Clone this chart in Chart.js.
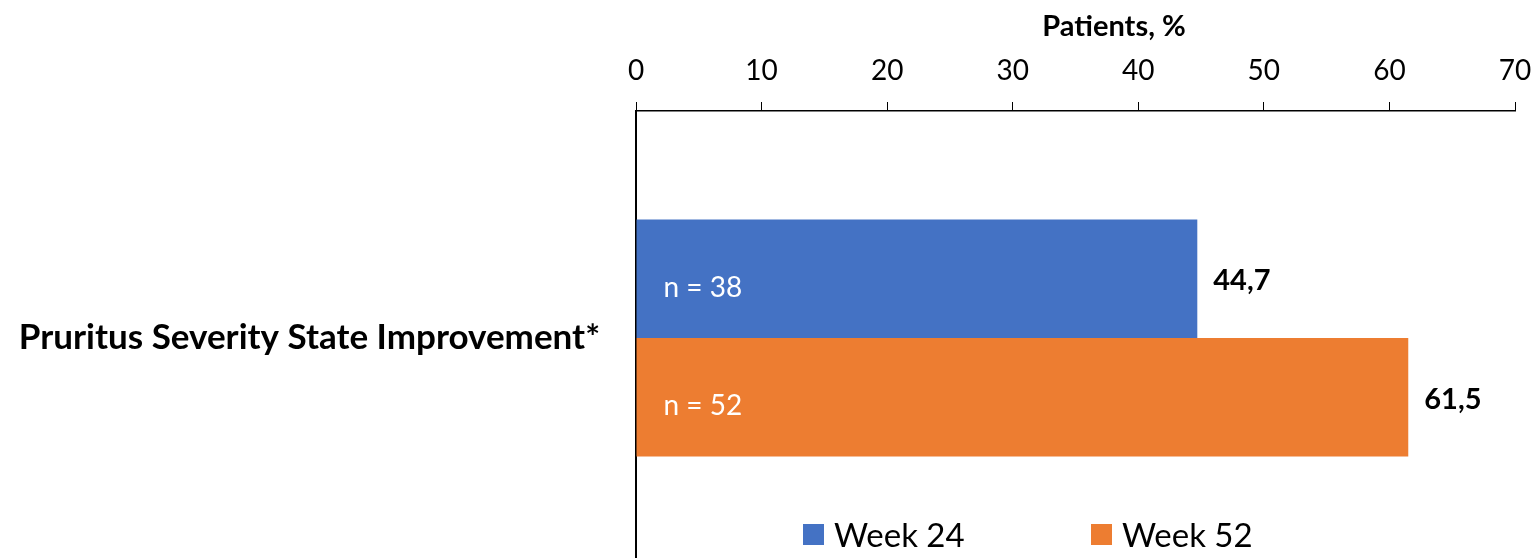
<!DOCTYPE html>
<html lang="en">
   <head>
      <meta charset="UTF-8" />
      <title>Pruritus Severity State Improvement</title>
      <script src="https://cdn.jsdelivr.net/npm/chart.js"></script>
      <style>
         body {
            margin: 0;
            overflow: hidden;
            background: #fff;
         }
      </style>
   </head>
   <body>
      <canvas id="chart" width="1537" height="565"></canvas>
      <script>
         // data
         const categories = ['Pruritus Severity State Improvement*'];
         const seriesLabels = ['Week 24', 'Week 52'];
         const week24 = [44.7];
         const week52 = [61.5];
         const nWeek24 = [38];
         const nWeek52 = [52];
         const axisTitle = 'Patients, %';

         const FONT = 'Lato, "Open Sans", sans-serif';

         // value labels, n labels, axis title and legend
         const annotate = {
            id: 'annotate',
            afterDatasetsDraw(chart) {
               const ctx = chart.ctx;
               const nLists = [nWeek24, nWeek52];
               ctx.save();
               chart.data.datasets.forEach((ds, i) => {
                  const meta = chart.getDatasetMeta(i);
                  meta.data.forEach((bar, j) => {
                     ctx.textBaseline = 'middle';
                     ctx.textAlign = 'left';
                     ctx.fillStyle = '#000';
                     ctx.font = 'bold 29px ' + FONT;
                     ctx.fillText(ds.data[j].toFixed(1).replace('.', ','), bar.x + 16, bar.y + 2);
                     ctx.fillStyle = '#fff';
                     ctx.font = '28px ' + FONT;
                     ctx.fillText('n = ' + nLists[i][j], bar.base + 27, bar.y + 9);
                  });
               });

               // axis title
               ctx.fillStyle = '#000';
               ctx.textAlign = 'center';
               ctx.textBaseline = 'middle';
               ctx.font = 'bold 29px ' + FONT;
               ctx.fillText(axisTitle, 1114, 27);

               // legend
               const legendX = [803, 1091];
               ctx.textAlign = 'left';
               ctx.font = '33px ' + FONT;
               chart.data.datasets.forEach((ds, i) => {
                  ctx.fillStyle = ds.backgroundColor;
                  ctx.fillRect(legendX[i], 524, 21, 21);
                  ctx.fillStyle = '#000';
                  ctx.fillText(ds.label, legendX[i] + 31, 536);
               });
               ctx.restore();
            },
         };

         new Chart(document.getElementById('chart'), {
            type: 'bar',
            data: {
               labels: categories,
               datasets: [
                  { label: seriesLabels[0], data: week24, backgroundColor: '#4472C4' },
                  { label: seriesLabels[1], data: week52, backgroundColor: '#ED7D31' },
               ],
            },
            options: {
               indexAxis: 'y',
               responsive: false,
               animation: false,
               devicePixelRatio: 1,
               layout: { padding: { top: 0, right: 22, bottom: 0, left: 0 } },
               categoryPercentage: 0.522,
               barPercentage: 1,
               plugins: {
                  legend: { display: false },
                  tooltip: { enabled: false },
               },
               scales: {
                  x: {
                     position: 'top',
                     min: 0,
                     max: 70,
                     ticks: {
                        stepSize: 10,
                        color: '#000',
                        padding: 14,
                        font: { family: FONT, size: 28 },
                     },
                     grid: { drawOnChartArea: false, tickLength: 9, color: '#000', lineWidth: 1 },
                     border: { color: '#000', width: 1.5 },
                     afterFit(scale) {
                        scale.height = 111;
                        scale.paddingLeft = 0;
                        scale.paddingRight = 0;
                     },
                  },
                  y: {
                     ticks: {
                        color: '#000',
                        padding: 36,
                        font: { family: FONT, size: 35, weight: 'bold' },
                     },
                     grid: { drawOnChartArea: false, drawTicks: false },
                     border: { color: '#000', width: 2 },
                     afterFit(scale) {
                        scale.width = 636;
                        scale.paddingTop = 0;
                        scale.paddingBottom = 0;
                     },
                  },
               },
            },
            plugins: [annotate],
         });
      </script>
   </body>
</html>
